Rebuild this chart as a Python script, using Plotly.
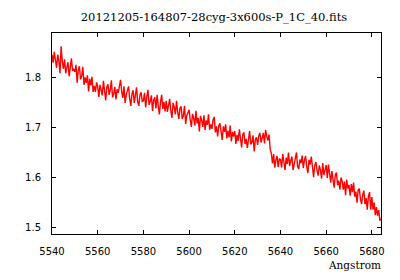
import numpy as np
import plotly.graph_objects as go

title_text = "20121205-164807-28cyg-3x600s-P_1C_40.fits"
x_label = "Angstrom"
wl_start = 5540.0
wl_step = 0.5

flux = [
    1.845, 1.829, 1.851, 1.834, 1.819, 1.845, 1.833, 1.808, 1.862, 1.832,
    1.817, 1.836, 1.808, 1.820, 1.830, 1.802, 1.822, 1.838, 1.813, 1.816,
    1.811, 1.825, 1.789, 1.815, 1.822, 1.796, 1.802, 1.821, 1.785, 1.800,
    1.789, 1.804, 1.772, 1.797, 1.784, 1.801, 1.771, 1.783, 1.771, 1.790,
    1.782, 1.761, 1.785, 1.777, 1.764, 1.793, 1.772, 1.754, 1.781, 1.786,
    1.765, 1.775, 1.794, 1.760, 1.767, 1.781, 1.756, 1.776, 1.769, 1.784,
    1.795, 1.772, 1.759, 1.782, 1.749, 1.765, 1.775, 1.782, 1.758, 1.743,
    1.767, 1.774, 1.749, 1.762, 1.780, 1.751, 1.743, 1.765, 1.770, 1.752,
    1.753, 1.769, 1.740, 1.761, 1.775, 1.745, 1.752, 1.764, 1.733, 1.755,
    1.760, 1.738, 1.765, 1.743, 1.726, 1.751, 1.765, 1.737, 1.751, 1.732,
    1.753, 1.731, 1.745, 1.757, 1.733, 1.719, 1.749, 1.741, 1.726, 1.753,
    1.731, 1.717, 1.738, 1.742, 1.717, 1.723, 1.743, 1.707, 1.724, 1.732,
    1.735, 1.715, 1.701, 1.727, 1.719, 1.704, 1.733, 1.708, 1.719, 1.692,
    1.723, 1.714, 1.701, 1.724, 1.695, 1.714, 1.705, 1.726, 1.695, 1.706,
    1.697, 1.715, 1.721, 1.690, 1.702, 1.682, 1.704, 1.708, 1.692, 1.675,
    1.702, 1.691, 1.706, 1.678, 1.693, 1.680, 1.704, 1.672, 1.691, 1.682,
    1.693, 1.667, 1.685, 1.673, 1.696, 1.677, 1.660, 1.686, 1.690, 1.667,
    1.677, 1.659, 1.681, 1.693, 1.666, 1.670, 1.684, 1.652, 1.676, 1.680,
    1.665, 1.683, 1.689, 1.670, 1.679, 1.689, 1.668, 1.695, 1.682, 1.674,
    1.686, 1.656, 1.648, 1.628, 1.647, 1.620, 1.635, 1.643, 1.621, 1.637,
    1.636, 1.620, 1.647, 1.633, 1.615, 1.640, 1.627, 1.650, 1.623, 1.634,
    1.642, 1.615, 1.627, 1.640, 1.650, 1.622, 1.617, 1.636, 1.629, 1.644,
    1.619, 1.635, 1.643, 1.622, 1.609, 1.635, 1.626, 1.642, 1.613, 1.601,
    1.624, 1.631, 1.615, 1.604, 1.624, 1.615, 1.598, 1.629, 1.605, 1.614,
    1.625, 1.599, 1.626, 1.608, 1.590, 1.613, 1.596, 1.580, 1.605, 1.610,
    1.585, 1.594, 1.576, 1.600, 1.593, 1.576, 1.592, 1.565, 1.596, 1.578,
    1.585, 1.564, 1.587, 1.571, 1.590, 1.562, 1.572, 1.550, 1.575, 1.578,
    1.557, 1.547, 1.566, 1.574, 1.547, 1.559, 1.536, 1.563, 1.571, 1.536,
    1.561, 1.536, 1.550, 1.525, 1.541, 1.524, 1.535, 1.514, 1.518,
]

x_ticks = [5540, 5560, 5580, 5600, 5620, 5640, 5660, 5680]
y_ticks = [1.5, 1.6, 1.7, 1.8]
x_range = [5540, 5684]
y_range = [1.4874, 1.8884]

wavelength = wl_start + wl_step * np.arange(len(flux))

fig = go.Figure()
fig.add_trace(go.Scatter(x=wavelength, y=flux, mode="lines",
                         line=dict(color="#ff0000", width=1.4),
                         showlegend=False, hoverinfo="skip"))

tick_font = dict(family="DejaVu Sans", size=10, color="black")

# label axes (transparent outside ticks push labels away from the frame)
label_axis = dict(showline=False, ticks="outside", ticklen=8, tickcolor="rgba(0,0,0,0)",
                  showgrid=False, zeroline=False, tickfont=tick_font)
# frame axes with inside mirrored ticks and no labels
frame_axis = dict(showline=True, linecolor="black", linewidth=1, mirror="ticks",
                  ticks="inside", ticklen=4, tickcolor="black", tickwidth=1,
                  showgrid=False, zeroline=False, showticklabels=False)

fig.update_layout(
    width=400, height=280,
    margin=dict(l=52, r=19, t=33, b=46),
    paper_bgcolor="white", plot_bgcolor="white",
    title=dict(text=title_text, x=0.535, xanchor="center", y=0.94, yanchor="middle",
               font=dict(family="DejaVu Serif", size=11.5, color="black")),
    xaxis=dict(range=x_range, tickvals=x_ticks, ticktext=[str(t) for t in x_ticks], **label_axis),
    yaxis=dict(range=y_range, tickvals=y_ticks, ticktext=[f"{t:.1f}" for t in y_ticks], **label_axis),
    xaxis2=dict(range=x_range, tickvals=x_ticks, overlaying="x", side="bottom", **frame_axis),
    yaxis2=dict(range=y_range, tickvals=y_ticks, overlaying="y", side="left", **frame_axis),
    annotations=[dict(text=x_label, xref="paper", yref="paper", x=1.005, y=-0.152,
                      xanchor="right", yanchor="middle", showarrow=False,
                      font=dict(family="DejaVu Serif", size=10.5, color="black"))],
)
fig.add_trace(go.Scatter(x=[x_range[0]], y=[y_range[0]], xaxis="x2", yaxis="y2",
                         mode="markers", marker=dict(opacity=0), showlegend=False,
                         hoverinfo="skip"))

fig.write_html("out.html")
